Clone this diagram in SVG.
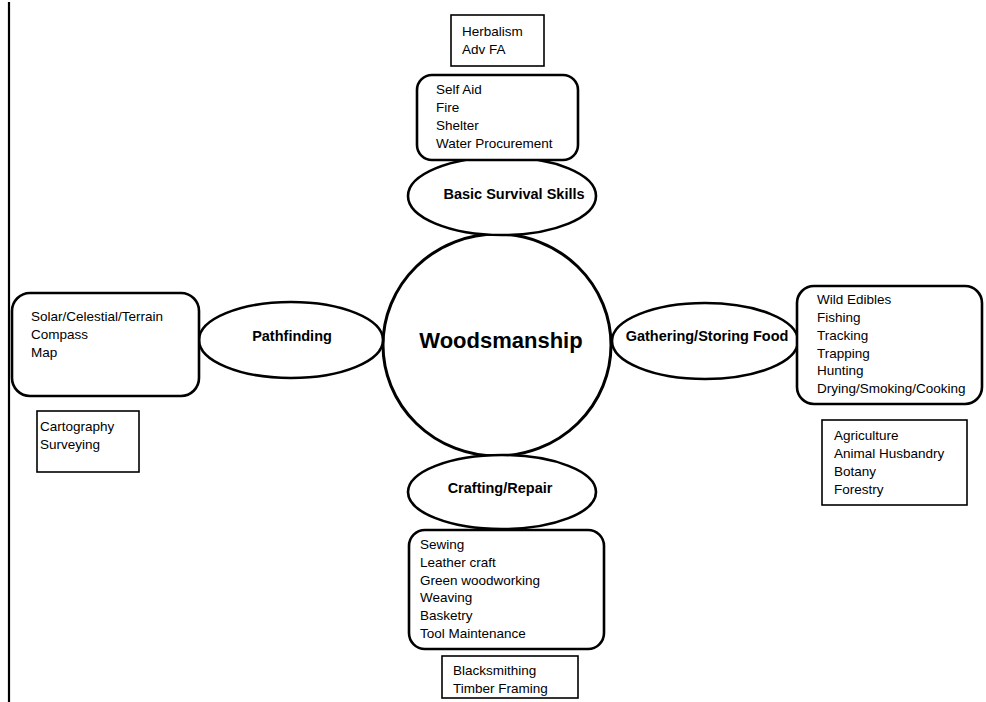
<svg xmlns="http://www.w3.org/2000/svg" width="986" height="702" viewBox="0 0 986 702">
<style>
text{font-family:"Liberation Sans",Arial,sans-serif;fill:#000}
.t{font-size:13.5px}
.b{font-size:14.5px;font-weight:bold;text-anchor:middle}
.hub{fill:#fff;stroke:#000;stroke-width:3}
.el{fill:#fff;stroke:#000;stroke-width:2.6}
.rr{fill:#fff;stroke:#000;stroke-width:2.6}
.sq{fill:#fff;stroke:#000;stroke-width:1.6}
</style>
<rect width="986" height="702" fill="#fff"/>
<line x1="9" y1="2" x2="9" y2="702" stroke="#000" stroke-width="2.2"/>
<g id="connectors"></g>
<g id="woodsmanship">
<ellipse class="hub" cx="497" cy="345" rx="114" ry="111"/>
<text x="501" y="348" style="font-size:22px;font-weight:bold;text-anchor:middle">Woodsmanship</text>
</g>
<g id="basic-survival">
<ellipse class="el" cx="502" cy="196" rx="94" ry="39"/>
<text class="b" x="514" y="199">Basic Survival Skills</text>
</g>
<g id="basic-list">
<rect class="rr" x="417" y="75" width="161" height="85" rx="15"/>
<text class="t" x="436" y="94">Self Aid</text>
<text class="t" x="436" y="112">Fire</text>
<text class="t" x="436" y="130">Shelter</text>
<text class="t" x="436" y="148">Water Procurement</text>
</g>
<g id="basic-adv">
<rect class="sq" x="451" y="15" width="93" height="51"/>
<text class="t" x="462" y="36">Herbalism</text>
<text class="t" x="462" y="54">Adv FA</text>
</g>
<g id="pathfinding">
<ellipse class="el" cx="291" cy="340" rx="92" ry="38"/>
<text class="b" x="292" y="341">Pathfinding</text>
</g>
<g id="path-list">
<rect class="rr" x="12" y="293" width="187" height="103" rx="18"/>
<text class="t" x="31" y="321">Solar/Celestial/Terrain</text>
<text class="t" x="31" y="339">Compass</text>
<text class="t" x="31" y="357">Map</text>
</g>
<g id="path-adv">
<rect class="sq" x="37" y="411" width="102" height="61"/>
<text class="t" x="40" y="431">Cartography</text>
<text class="t" x="40" y="449">Surveying</text>
</g>
<g id="gathering">
<ellipse class="el" cx="705" cy="341" rx="93" ry="38"/>
<text class="b" x="707" y="341">Gathering/Storing Food</text>
</g>
<g id="gather-list">
<rect class="rr" x="797" y="286" width="185" height="118" rx="17"/>
<text class="t" x="817" y="304">Wild Edibles</text>
<text class="t" x="817" y="322">Fishing</text>
<text class="t" x="817" y="340">Tracking</text>
<text class="t" x="817" y="358">Trapping</text>
<text class="t" x="817" y="375">Hunting</text>
<text class="t" x="817" y="393">Drying/Smoking/Cooking</text>
</g>
<g id="gather-adv">
<rect class="sq" x="822" y="420" width="145" height="85"/>
<text class="t" x="834" y="440">Agriculture</text>
<text class="t" x="834" y="458">Animal Husbandry</text>
<text class="t" x="834" y="476">Botany</text>
<text class="t" x="834" y="494">Forestry</text>
</g>
<g id="crafting">
<ellipse class="el" cx="502" cy="492" rx="94" ry="37"/>
<text class="b" x="500" y="493">Crafting/Repair</text>
</g>
<g id="craft-list">
<rect class="rr" x="409" y="530" width="195" height="119" rx="16"/>
<text class="t" x="420" y="549">Sewing</text>
<text class="t" x="420" y="567">Leather craft</text>
<text class="t" x="420" y="585">Green woodworking</text>
<text class="t" x="420" y="602">Weaving</text>
<text class="t" x="420" y="620">Basketry</text>
<text class="t" x="420" y="638">Tool Maintenance</text>
</g>
<g id="craft-adv">
<rect class="sq" x="442" y="656" width="136" height="42"/>
<text class="t" x="453" y="675">Blacksmithing</text>
<text class="t" x="453" y="693">Timber Framing</text>
</g>
</svg>
